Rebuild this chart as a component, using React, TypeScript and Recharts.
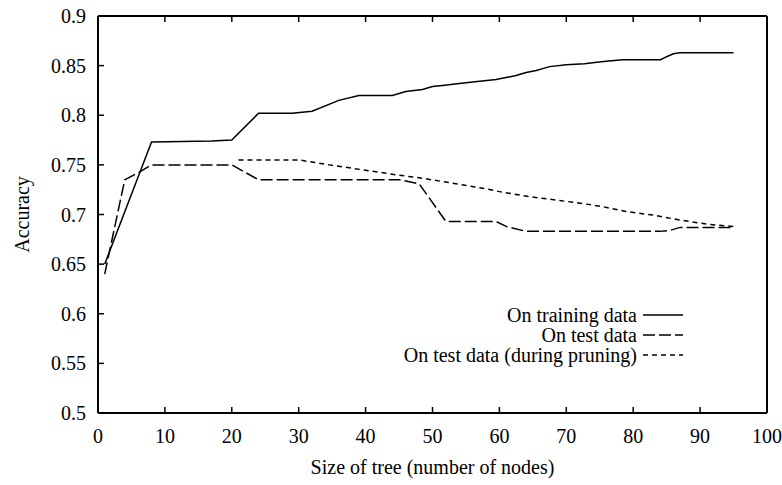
import React from 'react';
import { LineChart, Line, XAxis, YAxis, Legend } from 'recharts';

const FONT = '"Liberation Serif", Tinos, "Times New Roman", "DejaVu Serif", serif';

const xTicks = [0, 10, 20, 30, 40, 50, 60, 70, 80, 90, 100];
const yTicks = [0.5, 0.55, 0.6, 0.65, 0.7, 0.75, 0.8, 0.85, 0.9];
const xDomain = [0, 100];
const yDomain = [0.5, 0.9];

const trainingSizes = [1, 8, 17, 20, 24, 29, 32, 36, 39, 44, 46, 48.5, 50, 51.5, 54, 56.7, 59.5, 61, 62.5, 64, 65.5, 67.5, 70, 72.7, 75.2, 78.4, 84.1, 85, 86, 87, 95];
const trainingAccuracy = [0.65, 0.773, 0.774, 0.775, 0.802, 0.802, 0.804, 0.815, 0.82, 0.82, 0.824, 0.826, 0.829, 0.83, 0.832, 0.834, 0.836, 0.838, 0.84, 0.843, 0.845, 0.849, 0.851, 0.852, 0.854, 0.856, 0.856, 0.859, 0.862, 0.863, 0.863];

const testSizes = [1, 4, 6, 8, 20, 24, 45, 48, 52, 59.5, 61, 64, 84, 85.5, 87, 95];
const testAccuracy = [0.64, 0.735, 0.742, 0.75, 0.75, 0.735, 0.735, 0.731, 0.693, 0.693, 0.688, 0.683, 0.683, 0.684, 0.687, 0.687];

const pruningSizes = [21, 30, 34.6, 37.6, 40.6, 44.6, 48.5, 53.5, 57.5, 60.4, 64.5, 71.4, 75.4, 78.9, 82.9, 86.9, 91.3, 95];
const pruningAccuracy = [0.755, 0.755, 0.75, 0.747, 0.744, 0.74, 0.7365, 0.731, 0.7265, 0.7225, 0.718, 0.712, 0.708, 0.703, 0.6995, 0.6945, 0.69, 0.688];

const seriesNames = ['On training data', 'On test data', 'On test data (during pruning)'];
const seriesDashes: (string | undefined)[] = [undefined, '12 4', '5 4'];

const toPoints = (xs: number[], ys: number[]) => xs.map((x, i) => ({ x, y: ys[i] }));
const seriesData = [
  toPoints(trainingSizes, trainingAccuracy),
  toPoints(testSizes, testAccuracy),
  toPoints(pruningSizes, pruningAccuracy),
];

const tickStyle = { fill: '#000', fontSize: 20, fontFamily: FONT };
const axisLine = { stroke: '#000', strokeWidth: 2 };
const tickLine = { stroke: '#000', strokeWidth: 1.5 };
const emptyTick = () => <g />;

const renderLegend = () => (
  <div
    style={{
      display: 'flex',
      flexDirection: 'column',
      alignItems: 'flex-end',
      fontFamily: FONT,
      fontSize: 20,
      color: '#000',
    }}
  >
    {seriesNames.map((n, i) => (
      <div key={n} style={{ display: 'flex', alignItems: 'center', height: 20, lineHeight: '20px' }}>
        <span style={{ whiteSpace: 'nowrap' }}>{n}</span>
        <svg width={46} height={20} style={{ display: 'block' }}>
          <line x1={6} x2={46} y1={10} y2={10} stroke="#000" strokeWidth={1.5} strokeDasharray={seriesDashes[i]} />
        </svg>
      </div>
    ))}
  </div>
);

export default function App() {
  return (
    <div style={{ position: 'absolute', left: 0, top: 0, width: 782, height: 485, background: '#fff', fontFamily: FONT }}>
      <LineChart width={782} height={485} margin={{ top: 15, right: 14, bottom: 0, left: 0 }}>
        <XAxis
          type="number"
          dataKey="x"
          domain={xDomain}
          ticks={xTicks}
          height={72}
          tickSize={-6}
          tickMargin={22}
          tick={tickStyle}
          axisLine={axisLine}
          tickLine={tickLine}
          interval={0}
          label={{
            value: 'Size of tree (number of nodes)',
            position: 'insideBottom',
            offset: 11,
            style: { fill: '#000', fontSize: 20, fontFamily: FONT, textAnchor: 'middle' },
          }}
        />
        <XAxis
          xAxisId="top"
          orientation="top"
          type="number"
          dataKey="x"
          domain={xDomain}
          ticks={xTicks}
          height={1}
          tickSize={-6}
          tick={emptyTick}
          axisLine={axisLine}
          tickLine={tickLine}
          interval={0}
        />
        <YAxis
          type="number"
          domain={yDomain}
          ticks={yTicks}
          width={98}
          tickSize={-6}
          tickMargin={18}
          tick={tickStyle}
          axisLine={axisLine}
          tickLine={tickLine}
          interval={0}
          label={{
            value: 'Accuracy',
            angle: -90,
            position: 'insideLeft',
            offset: 22,
            style: { fill: '#000', fontSize: 20, fontFamily: FONT, textAnchor: 'middle' },
          }}
        />
        <YAxis
          yAxisId="right"
          orientation="right"
          type="number"
          domain={yDomain}
          ticks={yTicks}
          width={1}
          tickSize={-6}
          tick={emptyTick}
          axisLine={axisLine}
          tickLine={tickLine}
          interval={0}
        />
        <Legend
          layout="horizontal"
          verticalAlign="middle"
          align="center"
          content={renderLegend}
          wrapperStyle={{ position: 'absolute', left: 0, top: 305, width: 683, margin: 0, padding: 0 }}
        />
        {seriesData.map((d, i) => (
          <Line
            key={seriesNames[i]}
            data={d}
            dataKey="y"
            name={seriesNames[i]}
            type="linear"
            stroke="#000"
            strokeWidth={1.5}
            strokeDasharray={seriesDashes[i]}
            dot={false}
            activeDot={false}
            isAnimationActive={false}
            xAxisId={i === 2 ? 'top' : 0}
          />
        ))}
      </LineChart>
    </div>
  );
}
